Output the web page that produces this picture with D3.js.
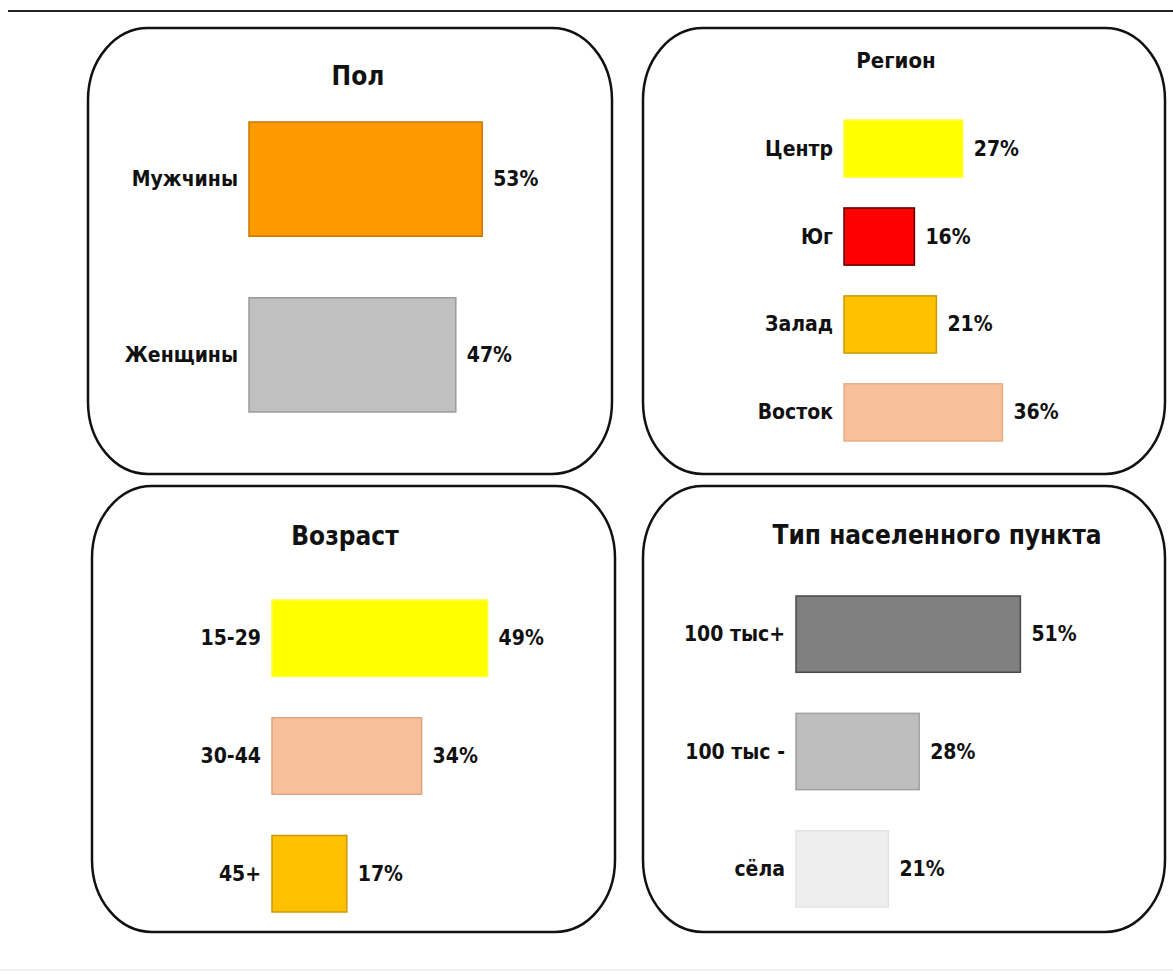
<!DOCTYPE html>
<html>
<head>
<meta charset="utf-8">
<script src="https://cdn.jsdelivr.net/npm/d3@7"></script>
<style>
  body { margin: 0; background: #fff; }
  svg text { font-family: "Liberation Sans Narrow", "DejaVu Sans Condensed", "Liberation Sans", sans-serif; font-weight: bold; fill: #111; }
</style>
</head>
<body>
<div id="container"></div>
<script>
// data
var sexCats = ["Мужчины", "Женщины"];
var sexVals = [53, 47];
var sexColors = ["#ff9900", "#c0c0c0"];
var sexStrokes = ["#c97800", "#9a9a9a"];

var regionCats = ["Центр", "Юг", "Залад", "Восток"];
var regionVals = [27, 16, 21, 36];
var regionColors = ["#ffff00", "#ff0000", "#ffc000", "#f8c09a"];
var regionStrokes = ["#ffff40", "#5a0000", "#c89a00", "#e8ae88"];

var ageCats = ["15-29", "30-44", "45+"];
var ageVals = [49, 34, 17];
var ageColors = ["#ffff00", "#f8c09a", "#ffc000"];
var ageStrokes = ["#ffff40", "#e0a47e", "#c89a00"];

var placeCats = ["100 тыс+", "100 тыс -", "сёла"];
var placeVals = [51, 28, 21];
var placeColors = ["#808080", "#bebebe", "#eeeeee"];
var placeStrokes = ["#4a4a4a", "#a0a0a0", "#e2e2e2"];

var width = 1173, height = 975;

// panel layout: box, title place and bar area
var panels = [
  {title: "Пол", box: [88, 28, 612, 474], tx: 358, ty: 76, ts: 26, x0: 249, y0: 122, y1: 412,
   cats: sexCats, vals: sexVals, colors: sexColors, strokes: sexStrokes},
  {title: "Регион", box: [643, 28, 1165, 474], tx: 896, ty: 60, ts: 22, x0: 844, y0: 120, y1: 441,
   cats: regionCats, vals: regionVals, colors: regionColors, strokes: regionStrokes},
  {title: "Возраст", box: [92, 486, 615, 932], tx: 345, ty: 536, ts: 26, x0: 272, y0: 600, y1: 912,
   cats: ageCats, vals: ageVals, colors: ageColors, strokes: ageStrokes},
  {title: "Тип населенного пункта", box: [643, 486, 1165, 932], tx: 937, ty: 535, ts: 26, x0: 796, y0: 596, y1: 907,
   cats: placeCats, vals: placeVals, colors: placeColors, strokes: placeStrokes}
];

var x = d3.scaleLinear().domain([0, 100]).range([0, 440]);

var svg = d3.select("#container").append("svg")
  .attr("width", width)
  .attr("height", height);

// rule at the top and faint one at the bottom
svg.append("line")
  .attr("x1", 8).attr("x2", width).attr("y1", 11).attr("y2", 11)
  .attr("stroke", "#222").attr("stroke-width", 2);
svg.append("line")
  .attr("x1", 0).attr("x2", width).attr("y1", 970).attr("y2", 970)
  .attr("stroke", "#eeeeee").attr("stroke-width", 1.5);

panels.forEach(function(p){
  var g = svg.append("g");

  g.append("rect")
    .attr("x", p.box[0]).attr("y", p.box[1])
    .attr("width", p.box[2] - p.box[0]).attr("height", p.box[3] - p.box[1])
    .attr("rx", 60).attr("ry", 72)
    .attr("fill", "none")
    .attr("stroke", "#111")
    .attr("stroke-width", 2.5);

  g.append("text")
    .attr("x", p.tx).attr("y", p.ty)
    .attr("text-anchor", "middle")
    .attr("dominant-baseline", "central")
    .style("font-size", p.ts + "px")
    .text(p.title);

  var y = d3.scaleBand()
    .domain(p.cats)
    .range([p.y0, p.y1])
    .paddingInner(0.35)
    .paddingOuter(0);

  var rows = p.cats.map(function(c, i){
    return {cat: c, val: p.vals[i], color: p.colors[i], stroke: p.strokes[i]};
  });

  g.selectAll(".bar").data(rows).enter()
    .append("rect")
    .attr("class", "bar")
    .attr("x", p.x0)
    .attr("y", function(d){ return y(d.cat); })
    .attr("width", function(d){ return x(d.val); })
    .attr("height", y.bandwidth())
    .attr("fill", function(d){ return d.color; })
    .attr("stroke", function(d){ return d.stroke; })
    .attr("stroke-width", 1.5);

  g.selectAll(".cat").data(rows).enter()
    .append("text")
    .attr("class", "cat")
    .attr("x", p.x0 - 11)
    .attr("y", function(d){ return y(d.cat) + y.bandwidth() / 2; })
    .attr("text-anchor", "end")
    .attr("dominant-baseline", "central")
    .style("font-size", "21px")
    .text(function(d){ return d.cat; });

  g.selectAll(".val").data(rows).enter()
    .append("text")
    .attr("class", "val")
    .attr("x", function(d){ return p.x0 + x(d.val) + 11; })
    .attr("y", function(d){ return y(d.cat) + y.bandwidth() / 2; })
    .attr("dominant-baseline", "central")
    .style("font-size", "21px")
    .text(function(d){ return d.val + "%"; });
});
</script>
</body>
</html>
